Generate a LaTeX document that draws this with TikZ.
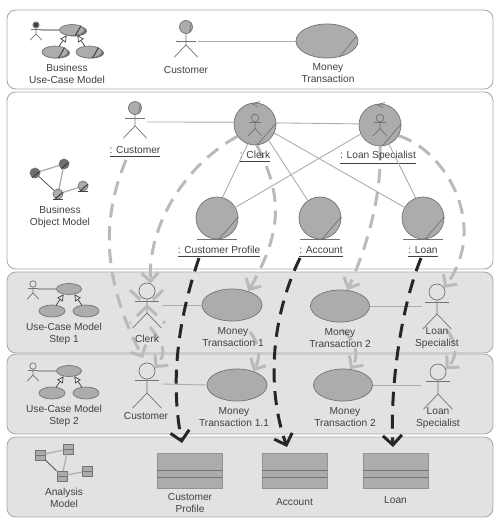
\documentclass[tikz,border=0pt]{standalone}
\usepackage{xcolor}
\usepackage{fontspec}
\setmainfont{Liberation Sans}
\usepackage{tikz}
\usetikzlibrary{shapes,arrows.meta,positioning,calc}
\definecolor{panelgray}{RGB}{226, 226, 226}
\definecolor{paneledge}{RGB}{170, 170, 170}
\definecolor{bodygray}{RGB}{172, 172, 172}
\definecolor{shadegray}{RGB}{110, 110, 110}
\definecolor{wiregray}{RGB}{172, 172, 172}
\definecolor{flowgray}{RGB}{186, 186, 186}
\definecolor{inkgray}{RGB}{65, 65, 65}
\definecolor{limbgray}{RGB}{115, 115, 115}
\pgfdeclarelayer{panels}
\pgfdeclarelayer{flows}
\pgfsetlayers{panels,flows,main}

\tikzset{
  panel/.style={draw=paneledge, line width=0.5pt, rounded corners=5pt},
  caption/.style={text=inkgray, align=center, inner sep=0pt, font=\fontsize{5.8}{6.9}\selectfont},
  link/.style={draw=wiregray, line width=0.5pt},
  limb/.style={draw=limbgray, line width=0.4pt},
  actorhead/.style={circle, draw=limbgray, line width=0.4pt, inner sep=0pt},
  usecase/.style={ellipse, draw=limbgray, fill=bodygray, line width=0.4pt, inner sep=0pt},
  objectdisc/.style={circle, draw=limbgray, fill=bodygray, line width=0.4pt, inner sep=0pt, minimum size=0.84cm},
  classbox/.style={draw=bodygray!85!black, fill=bodygray, line width=0.4pt, inner sep=0pt, minimum width=1.3cm, minimum height=0.7cm},
  grayflow/.style={draw=flowgray, line width=1.7pt, dash pattern=on 8pt off 5pt, -{Straight Barb[length=1.7mm,width=3.4mm]}},
  blackflow/.style={draw=black!85, line width=1.7pt, dash pattern=on 8pt off 5pt, -{Straight Barb[length=1.9mm,width=3.8mm]}},
}

% name, position, head radius, head fill, drop from head to arms
\newcommand{\stickman}[5]{
  \node[actorhead, fill=#4, minimum size={#3*0.04cm}] (#1) at (#2) {};
  \draw[limb] (#1.center) ++(0,#5) ++({-1.5*#3},0) -- ++({3*#3},0);
  \draw[limb] (#1.south) -- ++(0,{1.7*#3}) coordinate (#1hip) -- ++({-1.8*#3},{1.9*#3});
  \draw[limb] (#1hip) -- ++({1.8*#3},{1.9*#3});
}

% little use-case model: actor, one use case, two more use cases below
\newcommand{\casemodel}[2]{
  \begin{scope}[shift={(#2)}]
    \stickman{#1man}{-36,-5}{3.2}{none}{4}
    \node[usecase, minimum width=0.5cm, minimum height=0.22cm] (#1top) at (0,0) {};
    \node[usecase, minimum width=0.52cm, minimum height=0.24cm] (#1left) at (-17,22) {};
    \node[usecase, minimum width=0.52cm, minimum height=0.24cm] (#1right) at (17,22) {};
    \draw[link, line width=0.7pt] (#1man) ++(5,5) -- (#1top.west);
    \draw[draw=inkgray, line width=0.4pt, -{Triangle[open,length=1.3mm,width=1.3mm]}] (#1left) -- (#1top.-135);
    \draw[draw=inkgray, line width=0.4pt, -{Triangle[open,length=1.3mm,width=1.3mm]}] (#1right) -- (#1top.-45);
  \end{scope}
}

\begin{document}
\begin{tikzpicture}[x=0.02cm, y=-0.02cm, >=stealth]
    \useasboundingbox (0,0) rectangle (500,527);

    % the five bands
    \begin{pgfonlayer}{panels}
    \foreach \ya/\yb/\paint in {10/89/white, 92/269/white, 272/353/panelgray, 354/434/panelgray, 437/517/panelgray}
        \draw[panel, fill=\paint] (7,\ya) rectangle (493,\yb);
    \end{pgfonlayer}

    % business use-case model
    \foreach \x/\y in {74/31, 57/53, 91/53}
        \fill[shadegray] (\x,\y) ellipse (13 and 5.5);
    \casemodel{busi}{72,30}
    \foreach \n in {busitop, busileft, busiright}
        \draw[draw=inkgray, line width=0.6pt] (\n.-60) -- (\n.25);
    \filldraw[inkgray] (busiman) circle (2.2);
    \node[caption] (busiCaption) at (67,74) {Business\\Use-Case Model};
    \stickman{customerWorld}{186,27}{6.5}{bodygray}{14}
    \draw[limb] (customerWorld.-60) -- (customerWorld.40);
    \node[caption] (customerWorldCaption) at (186,70) {Customer};
    \node[usecase, minimum width=1.24cm, minimum height=0.68cm] (moneyWorld) at (327,41) {};
    \draw[limb] (moneyWorld.-51) -- (moneyWorld.10);
    \draw[link] (customerWorld) ++(12,14) -- (moneyWorld.west);
    \node[caption] (moneyWorldCaption) at (328,73) {Money\\Transaction};

    % business object model
    \node[objectdisc, minimum size=0.2cm, fill=shadegray] (miniA) at (35,173) {};
    \node[objectdisc, minimum size=0.2cm, fill=shadegray] (miniB) at (64,164) {};
    \node[objectdisc, minimum size=0.2cm] (miniC) at (58,194) {};
    \node[objectdisc, minimum size=0.2cm] (miniD) at (83,186) {};
    \draw[link, line width=0.7pt] (miniA) -- (miniB);
    \draw[link, line width=0.7pt] (miniB) -- (miniC);
    \draw[link, line width=0.7pt] (miniC) -- (miniD);
    \draw[draw=inkgray, line width=0.4pt] (miniA) -- (miniC);
    \foreach \n in {miniA, miniB, miniC, miniD}
        \draw[draw=inkgray, line width=0.6pt] (\n.-120) -- (\n.20);
    \foreach \n in {miniC, miniD}
        \draw[draw=inkgray, line width=0.6pt] (\n.south) ++(-5,0) -- ++(10,0);
    \node[caption] (objectCaption) at (60,217) {Business\\Object Model};

    \stickman{customerInner}{135,108}{6.5}{bodygray}{10}
    \draw[limb] (customerInner.-60) -- (customerInner.40);
    \node[caption] (customerInnerCaption) at (135,152) {\underline{: Customer}};

    \node[objectdisc] (clerkObject) at (255,124) {};
    \node[objectdisc] (loanSpecObject) at (380,125) {};
    \node[objectdisc] (profileObject) at (217,218) {};
    \node[objectdisc] (accountObject) at (320,218) {};
    \node[objectdisc] (loanObject) at (423,218) {};
    \foreach \n in {clerkObject, loanSpecObject, profileObject, accountObject, loanObject}
        \draw[limb] (\n.-85) -- (\n.3);
    \foreach \n in {profileObject, accountObject, loanObject}
        \draw[limb] (\n.south) ++(-20,0) -- ++(40,0);
    \foreach \n in {clerkObject, loanSpecObject}
        \draw[limb] (\n.north) ++(5,-1) -- ++(-8,2) -- ++(6,3);
    \stickman{clerkInner}{255,118}{3.8}{none}{4}
    \stickman{loanSpecInner}{380,118}{3.8}{none}{4}

    \node[caption] (clerkCaption) at (255,157) {\underline{: Clerk}};
    \node[caption] (loanSpecCaption) at (378,158) {\underline{: Loan Specialist}};
    \node[caption] (profileCaption) at (219,252) {\underline{: Customer Profile}};
    \node[caption] (accountCaption) at (321,252) {\underline{: Account}};
    \node[caption] (loanCaption) at (423,252) {\underline{: Loan}};

    \draw[link] (customerInner) ++(12,14) -- (clerkObject.175);
    \draw[link] (clerkObject.3) -- (loanSpecObject.177);
    \draw[link] (clerkObject.-110) -- (profileObject.75);
    \draw[link] (clerkObject.-50) -- (accountObject.125);
    \draw[link] (clerkObject.-25) -- (loanObject.150);
    \draw[link] (loanSpecObject.205) -- (profileObject.30);
    \draw[link] (loanSpecObject.-65) -- (loanObject.110);

    % use-case model step 1
    \casemodel{stepOne}{69,289}
    \node[caption] (stepOneCaption) at (64,334) {Use-Case Model\\Step 1};
    \stickman{clerkActor}{147,291}{8}{none}{10}
    \node[caption] (clerkActorCaption) at (147,339) {Clerk};
    \node[usecase, minimum width=1.2cm, minimum height=0.64cm] (moneyOne) at (232,305) {};
    \draw[link] (clerkActor) ++(15,14) -- (moneyOne.west);
    \node[caption] (moneyOneCaption) at (233,337) {Money\\Transaction 1};
    \node[usecase, minimum width=1.18cm, minimum height=0.64cm] (moneyTwo) at (340,306) {};
    \node[caption] (moneyTwoCaption) at (340,338) {Money\\Transaction 2};
    \stickman{loanSpecActor}{437,292}{8}{none}{10}
    \draw[link] (moneyTwo.east) -- ++(52,0);
    \node[caption] (loanSpecActorCaption) at (437,338) {Loan\\Specialist};

    % use-case model step 2
    \casemodel{stepTwo}{69,371}
    \node[caption] (stepTwoCaption) at (64,416) {Use-Case Model\\Step 2};
    \stickman{customerActor}{147,371}{8}{none}{9}
    \node[caption] (customerActorCaption) at (146,416) {Customer};
    \node[usecase, minimum width=1.2cm, minimum height=0.64cm] (moneyOneOne) at (237,385) {};
    \draw[link] (customerActor) ++(15,13) -- (moneyOneOne.west);
    \node[caption] (moneyOneOneCaption) at (234,417) {Money\\Transaction 1.1};
    \node[usecase, minimum width=1.18cm, minimum height=0.64cm] (moneyTwoB) at (343,385) {};
    \node[caption] (moneyTwoBCaption) at (345,417) {Money\\Transaction 2};
    \stickman{loanSpecActorB}{438,372}{8}{none}{9}
    \draw[link] (moneyTwoB.east) -- ++(48,0);
    \node[caption] (loanSpecActorBCaption) at (438,418) {Loan\\Specialist};

    % analysis model
    \foreach \n/\x/\y in {boxA/40/455, boxB/68/449, boxC/62/476, boxD/87/471}
        \node[classbox, minimum width=0.2cm, minimum height=0.2cm, draw=limbgray] (\n) at (\x,\y) {};
    \draw[link, line width=0.7pt] (boxA) -- (boxB);
    \draw[link, line width=0.7pt] (boxB) -- (boxC);
    \draw[link, line width=0.7pt] (boxC) -- (boxD);
    \draw[draw=inkgray, line width=0.4pt] (boxA) -- (boxC);
    \foreach \n in {boxA, boxB, boxC, boxD}
        \draw[limb] (\n.west) -- (\n.east);
    \node[caption] (analysisCaption) at (64,498) {Analysis\\Model};
    \foreach \n/\x/\w/\y in {profileClass/190/Customer\\Profile/503, accountClass/294.5/Account/502, loanClass/395.5/Loan/500} {
        \node[classbox] (\n) at (\x,470.5) {};
        \draw[limb] (\n.west) -- (\n.east);
        \draw[limb] (\n.west) ++(0,6.5) -- ++(65,0);
        \node[caption] (\n-caption) at (\x,\y) {\w};
    }

    % gray flows
    \coordinate (customerOut) at (126,160);
    \coordinate (customerIn) at (143,358);
    \coordinate (clerkDrop) at (150,327);
    \coordinate (moneyOneDrop) at (250,332);
    \coordinate (moneyTwoDrop) at (342,330);
    \coordinate (loanSpecDrop) at (447,330);
    \begin{pgfonlayer}{flows}
    \draw[grayflow] (customerOut) .. controls (103,215) and (100,275) .. (customerIn);
    \draw[grayflow] (clerkObject.215) .. controls (185,165) and (148,225) .. (clerkActor.65);
    \draw[grayflow] (clerkObject.-85) .. controls (285,200) and (280,235) .. (moneyOne.40);
    \draw[grayflow] (loanSpecObject.-90) .. controls (382,190) and (370,240) .. (moneyTwo.65);
    \draw[grayflow] (loanSpecObject.-30) .. controls (445,150) and (490,225) .. (loanSpecActor.30);
    \draw[grayflow] (clerkDrop) .. controls (162,342) and (168,352) .. (customerActor.20);
    \draw[grayflow] (moneyOneDrop) .. controls (258,342) and (262,355) .. (moneyOneOne.40);
    \draw[grayflow] (moneyTwoDrop) .. controls (355,340) and (360,355) .. (moneyTwoB.65);
    \draw[grayflow] (loanSpecDrop) .. controls (456,342) and (459,355) .. (loanSpecActorB.20);
    \end{pgfonlayer}

    % clerk struck out
    \coordinate (strikeA) at (130,290);
    \coordinate (strikeB) at (165,323);
    \coordinate (strikeC) at (163,290);
    \coordinate (strikeD) at (130,323);
    \draw[draw=flowgray, line width=1.7pt, dash pattern=on 8pt off 5pt] (strikeA) -- (strikeB);
    \draw[draw=flowgray, line width=1.7pt, dash pattern=on 8pt off 5pt] (strikeC) -- (strikeD);

    % black flows
    \coordinate (profileOut) at (199,258);
    \coordinate (accountOut) at (300,258);
    \coordinate (loanOut) at (421,258);
    \coordinate (profileIn) at (182,443);
    \coordinate (accountIn) at (287,447);
    \coordinate (loanIn) at (393,447);
    \draw[blackflow] (profileOut) .. controls (178,320) and (170,380) .. (profileIn);
    \draw[blackflow] (accountOut) .. controls (270,320) and (267,390) .. (accountIn);
    \draw[blackflow] (loanOut) .. controls (400,310) and (390,390) .. (loanIn);
\end{tikzpicture}
\end{document}
